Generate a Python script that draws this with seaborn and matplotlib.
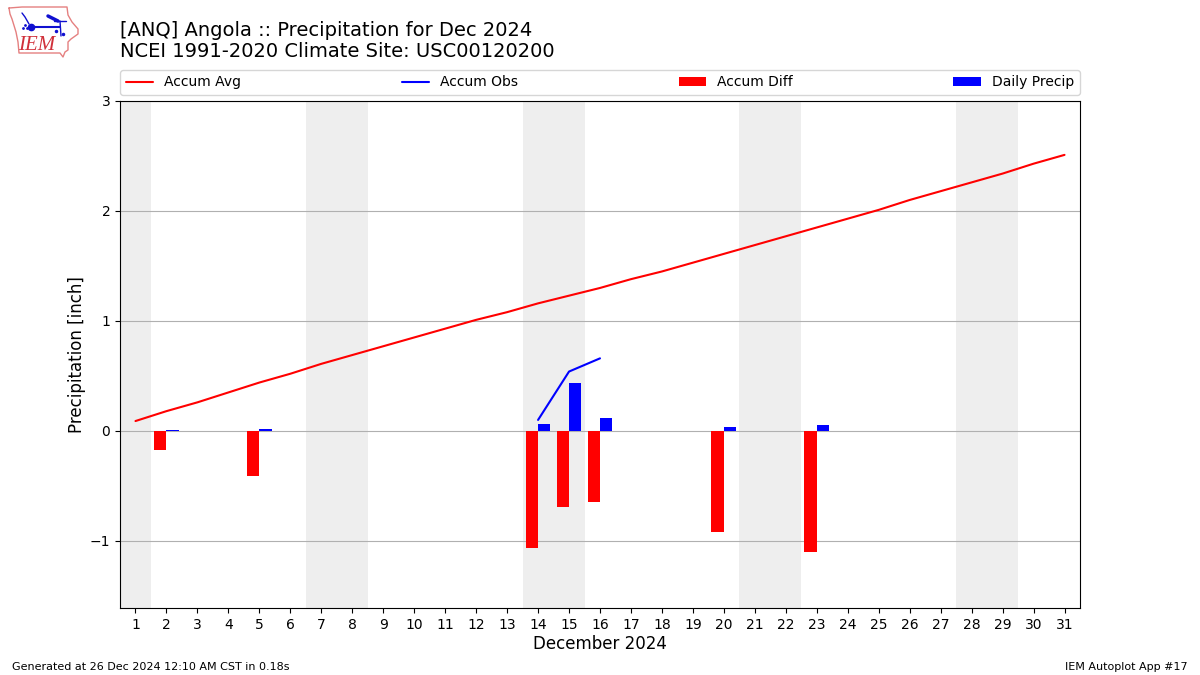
import matplotlib
matplotlib.use("Agg")
import matplotlib.pyplot as plt
import numpy as np
import pandas as pd
import seaborn as sns

days = list(range(1, 32))
accum_avg = [0.09, 0.18, 0.26, 0.35, 0.44, 0.52, 0.61, 0.69, 0.77, 0.85, 0.93,
             1.01, 1.08, 1.16, 1.23, 1.30, 1.38, 1.45, 1.53, 1.61, 1.69, 1.77,
             1.85, 1.93, 2.01, 2.10, 2.18, 2.26, 2.34, 2.43, 2.51]
obs_days = [14, 15, 16]
accum_obs = [0.10, 0.54, 0.66]
bar_days = [2, 5, 14, 15, 16, 20, 23]
accum_diff = [-0.17, -0.41, -1.06, -0.69, -0.645, -0.92, -1.10]
daily_precip = [0.01, 0.02, 0.065, 0.44, 0.12, 0.04, 0.05]
weekends = [(0.5, 1.5), (6.5, 8.5), (13.5, 15.5), (20.5, 22.5), (27.5, 29.5)]

sns.set_theme(style="ticks", rc={"axes.edgecolor": "black", "text.color": "black",
                                  "axes.labelcolor": "black", "xtick.color": "black",
                                  "ytick.color": "black"})
plt.rcParams["font.family"] = ["DejaVu Sans"]

W, H = 1200, 675
fig = plt.figure(figsize=(W / 100, H / 100), dpi=100)
ax = fig.add_axes([120 / W, 1 - 608 / H, 960 / W, 507 / H])

for a, b in weekends:
    ax.axvspan(a, b, color="#eeeeee", lw=0, zorder=0)

sns.lineplot(x=days, y=accum_avg, color="red", lw=1.5, label="Accum Avg", ax=ax,
             errorbar=None, zorder=3)
sns.lineplot(x=obs_days, y=accum_obs, color="blue", lw=1.5, label="Accum Obs", ax=ax,
             errorbar=None, zorder=3)

bars = pd.DataFrame({
    "day": bar_days * 2,
    "value": accum_diff + daily_precip,
    "series": ["Accum Diff"] * len(bar_days) + ["Daily Precip"] * len(bar_days),
})
sns.barplot(data=bars, x="day", y="value", hue="series", native_scale=True,
            palette={"Accum Diff": "red", "Daily Precip": "blue"}, width=0.8, gap=0,
            dodge=True, saturation=1, linewidth=0, errorbar=None, ax=ax, zorder=2)

ax.set_xlim(0.5, 31.5)
ax.set_ylim(-1.61, 3.0)
ax.set_xticks(days)
ax.set_xticklabels([str(d) for d in days], fontsize=10)
ax.set_yticks([-1, 0, 1, 2, 3])
ax.set_yticklabels(["\u22121", "0", "1", "2", "3"], fontsize=10)
ax.tick_params(axis="both", length=3.5, width=0.8)
ax.yaxis.grid(True, color="#b0b0b0", lw=0.8, zorder=1)
ax.xaxis.grid(False)
ax.set_axisbelow(True)
ax.set_xlabel("December 2024", fontsize=12, labelpad=2.7)
ax.set_ylabel("Precipitation [inch]", fontsize=12, labelpad=2.5)
for s in ax.spines.values():
    s.set_visible(True)
    s.set_linewidth(0.8)
    s.set_color("black")

handles, labels = ax.get_legend_handles_labels()
order = ["Accum Avg", "Accum Obs", "Accum Diff", "Daily Precip"]
hl = [handles[labels.index(n)] for n in order]
ax.legend(hl, order, loc="lower left", bbox_to_anchor=(0, 1 + 6 / 507, 1, 0.05), mode="expand",
          ncol=4, fontsize=10, borderaxespad=0, frameon=True, framealpha=0.8,
          edgecolor="#cccccc", fancybox=True)

fig.text(120 / W, 1 - 61 / H, "[ANQ] Angola :: Precipitation for Dec 2024\n"
         "NCEI 1991-2020 Climate Site: USC00120200", fontsize=14, ha="left", va="bottom",
         linespacing=1.15)
fig.text(12 / W, 1 - 672 / H, "Generated at 26 Dec 2024 12:10 AM CST in 0.18s", fontsize=8,
         ha="left", va="bottom")
fig.text(1188 / W, 1 - 672 / H, "IEM Autoplot App #17", fontsize=8, ha="right", va="bottom")

# Logo (pixel coordinates within the figure)
logo = fig.add_axes([0, 1 - 62 / H, 90 / W, 62 / H])
logo.set_xlim(0, 90)
logo.set_ylim(62, 0)
logo.axis("off")
ox = [9, 22, 40, 67, 68, 72, 78, 78, 71, 68, 68, 65, 63, 60, 19, 18, 16, 12, 10, 9]
oy = [8, 7, 7, 7, 15, 22, 29, 34, 39, 42, 50, 52, 57, 53, 53, 42, 32, 19, 14, 8]
logo.plot(ox, oy, color="#e58080", lw=1)
logo.plot([31, 60], [27, 27], color="#1010d0", lw=1.5)
logo.plot([31], [27], "o", color="#1010d0", ms=4.5)
logo.plot([22, 25, 29], [13, 17, 24], color="#1010d0", lw=1)
logo.plot([48, 52, 58], [16, 18, 21], color="#1010d0", lw=2.5)
logo.plot([54, 66], [21, 21], color="#1010d0", lw=1)
logo.plot([60, 61], [21, 36], color="#1010d0", lw=1)
logo.plot([56, 63], [31, 34], ".", color="#1010d0", ms=3)
logo.plot([23, 25, 27], [28, 25, 28], ".", color="#1010d0", ms=2)
logo.text(37, 45, "IEM", color="#d0303a", fontsize=15, style="italic",
          family="Liberation Serif", ha="center", va="center")

fig.savefig("out.png", dpi=100)
